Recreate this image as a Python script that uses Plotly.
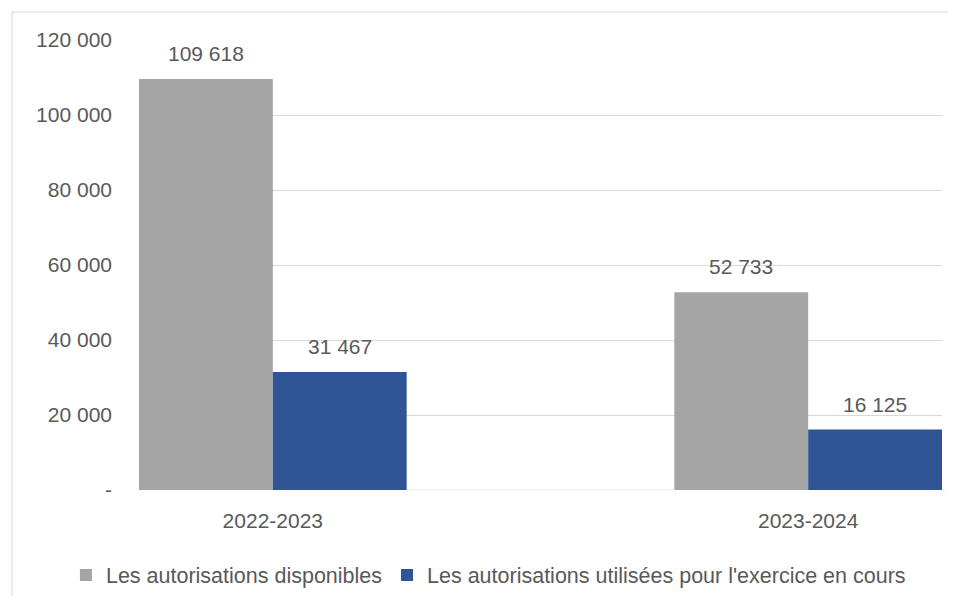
import plotly.graph_objects as go

categories = ["2022-2023", "2023-2024"]
series_names = ["Les autorisations disponibles", "Les autorisations utilisées pour l'exercice en cours"]
disponibles = [109618, 52733]
utilisees = [31467, 16125]
y_ticks = [0, 20000, 40000, 60000, 80000, 100000, 120000]
y_tick_labels = ["-", "20 000", "40 000", "60 000", "80 000", "100 000", "120 000"]

colors = ["#A5A5A5", "#2F5597"]
FONT = "Liberation Sans, Arial, sans-serif"
TXT = "#595959"

def fmt(v):
    return f"{v:,}".replace(",", " ")

xs = list(range(len(categories)))
fig = go.Figure()
for name, vals, col in zip(series_names, [disponibles, utilisees], colors):
    fig.add_trace(go.Bar(x=xs, y=vals, name=name, marker=dict(color=col, line=dict(width=0))))

W = 0.25
annotations = []
for k, vals in enumerate([disponibles, utilisees]):
    off = (k - 0.5) * W
    for i, v in enumerate(vals):
        annotations.append(dict(x=i + off, y=v, xref="x", yref="y", text=fmt(v),
                                showarrow=False, yanchor="bottom", yshift=12,
                                font=dict(family=FONT, size=21, color=TXT)))

fig.update_layout(
    width=940, height=588,
    margin=dict(l=131, r=6, t=32, b=106, autoexpand=False),
    paper_bgcolor="white", plot_bgcolor="white",
    barmode="group", bargap=0.5, bargroupgap=0,
    font=dict(family=FONT, size=21, color=TXT),
    xaxis=dict(range=[-0.25, 1.25], tickvals=xs, ticktext=categories, showgrid=False,
               zeroline=False, showline=False, ticks="", ticklabelstandoff=16, tickangle=0,
               tickfont=dict(family=FONT, size=21, color=TXT), fixedrange=True),
    yaxis=dict(range=[0, 120000], tickvals=y_ticks, ticktext=y_tick_labels, showgrid=True,
               gridcolor="#D9D9D9", gridwidth=1, zeroline=False, showline=False, ticks="",
               ticklabelstandoff=26, tickfont=dict(family=FONT, size=21, color=TXT)),
    legend=dict(orientation="h", xref="paper", x=-0.091, xanchor="left",
                y=-0.189, yanchor="middle",
                font=dict(family=FONT, size=21.5, color=TXT), itemwidth=30,
                traceorder="normal", bgcolor="rgba(0,0,0,0)"),
    annotations=annotations,
    shapes=[
        dict(type="line", xref="paper", yref="paper", x0=-0.158, x1=1.05, y0=1.0622, y1=1.0622,
             line=dict(color="#D9D9D9", width=1)),
        dict(type="line", xref="paper", yref="paper", x0=-0.158, x1=-0.158, y0=1.0622, y1=-0.3,
             line=dict(color="#D9D9D9", width=1)),
        dict(type="line", xref="paper", yref="y", x0=0, x1=1.004, y0=0, y1=0,
             line=dict(color="#D9D9D9", width=1), layer="below"),
    ],
)
fig.write_html("out.html")
